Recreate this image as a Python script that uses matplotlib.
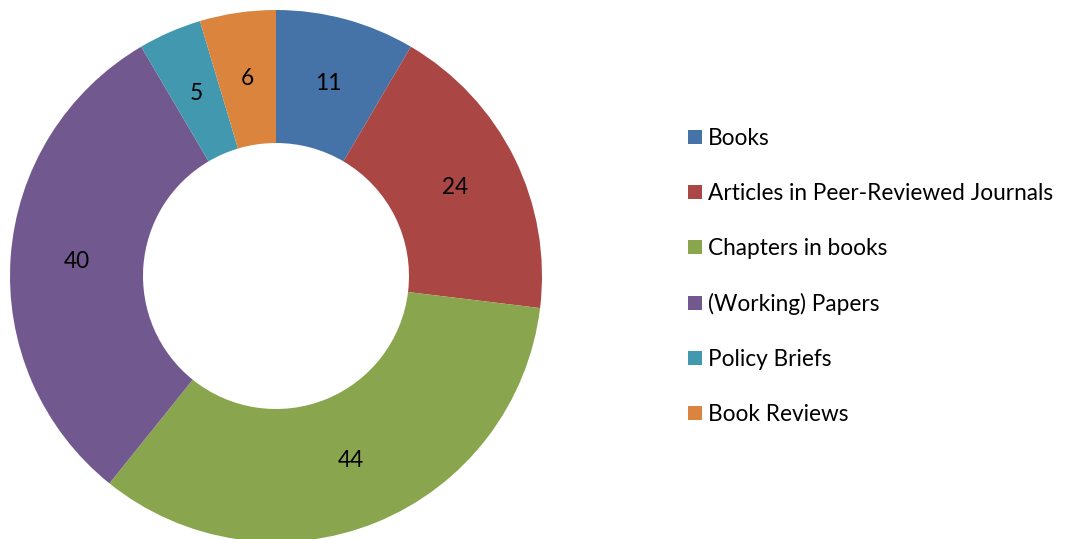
import matplotlib.pyplot as plt
from matplotlib.patches import Patch

labels = ['Books', 'Articles in Peer-Reviewed Journals', 'Chapters in books',
          '(Working) Papers', 'Policy Briefs', 'Book Reviews']
values = [11, 24, 44, 40, 5, 6]
colors = ['#4572A7', '#AA4643', '#89A54E', '#71588F', '#4198AF', '#DB843D']

plt.rcParams['font.family'] = ['Lato', 'DejaVu Sans']
fs = 16.3

W, H = 1065, 539
fig = plt.figure(figsize=(W / 100, H / 100), dpi=100)

# donut: centre (276, 276) px from top-left, outer radius 266 px
cx, cy, r = 276, 276, 266
ax = fig.add_axes([(cx - r) / W, (H - cy - r) / H, 2 * r / W, 2 * r / H])
total = sum(values)
wedges, _, autotexts = ax.pie(values, colors=colors, startangle=90, counterclock=False,
                              radius=1, wedgeprops=dict(width=0.5, linewidth=0),
                              autopct=lambda p: f'{round(p * total / 100):.0f}',
                              pctdistance=0.75, textprops=dict(fontsize=fs, color='black'))
ax.set_xlim(-1, 1)
ax.set_ylim(-1, 1)
ax.set_aspect('equal')
ax.axis('off')

handles = [Patch(facecolor=c, edgecolor='none') for c in colors]
fig.legend(handles, labels, loc='center left', bbox_to_anchor=(688 / W, (H - 276.5) / H),
           frameon=False, fontsize=fs, handlelength=0.62, handleheight=0.62,
           handletextpad=0.28, labelspacing=1.5, borderpad=0, borderaxespad=0)

fig.savefig('out.png', dpi=100)
